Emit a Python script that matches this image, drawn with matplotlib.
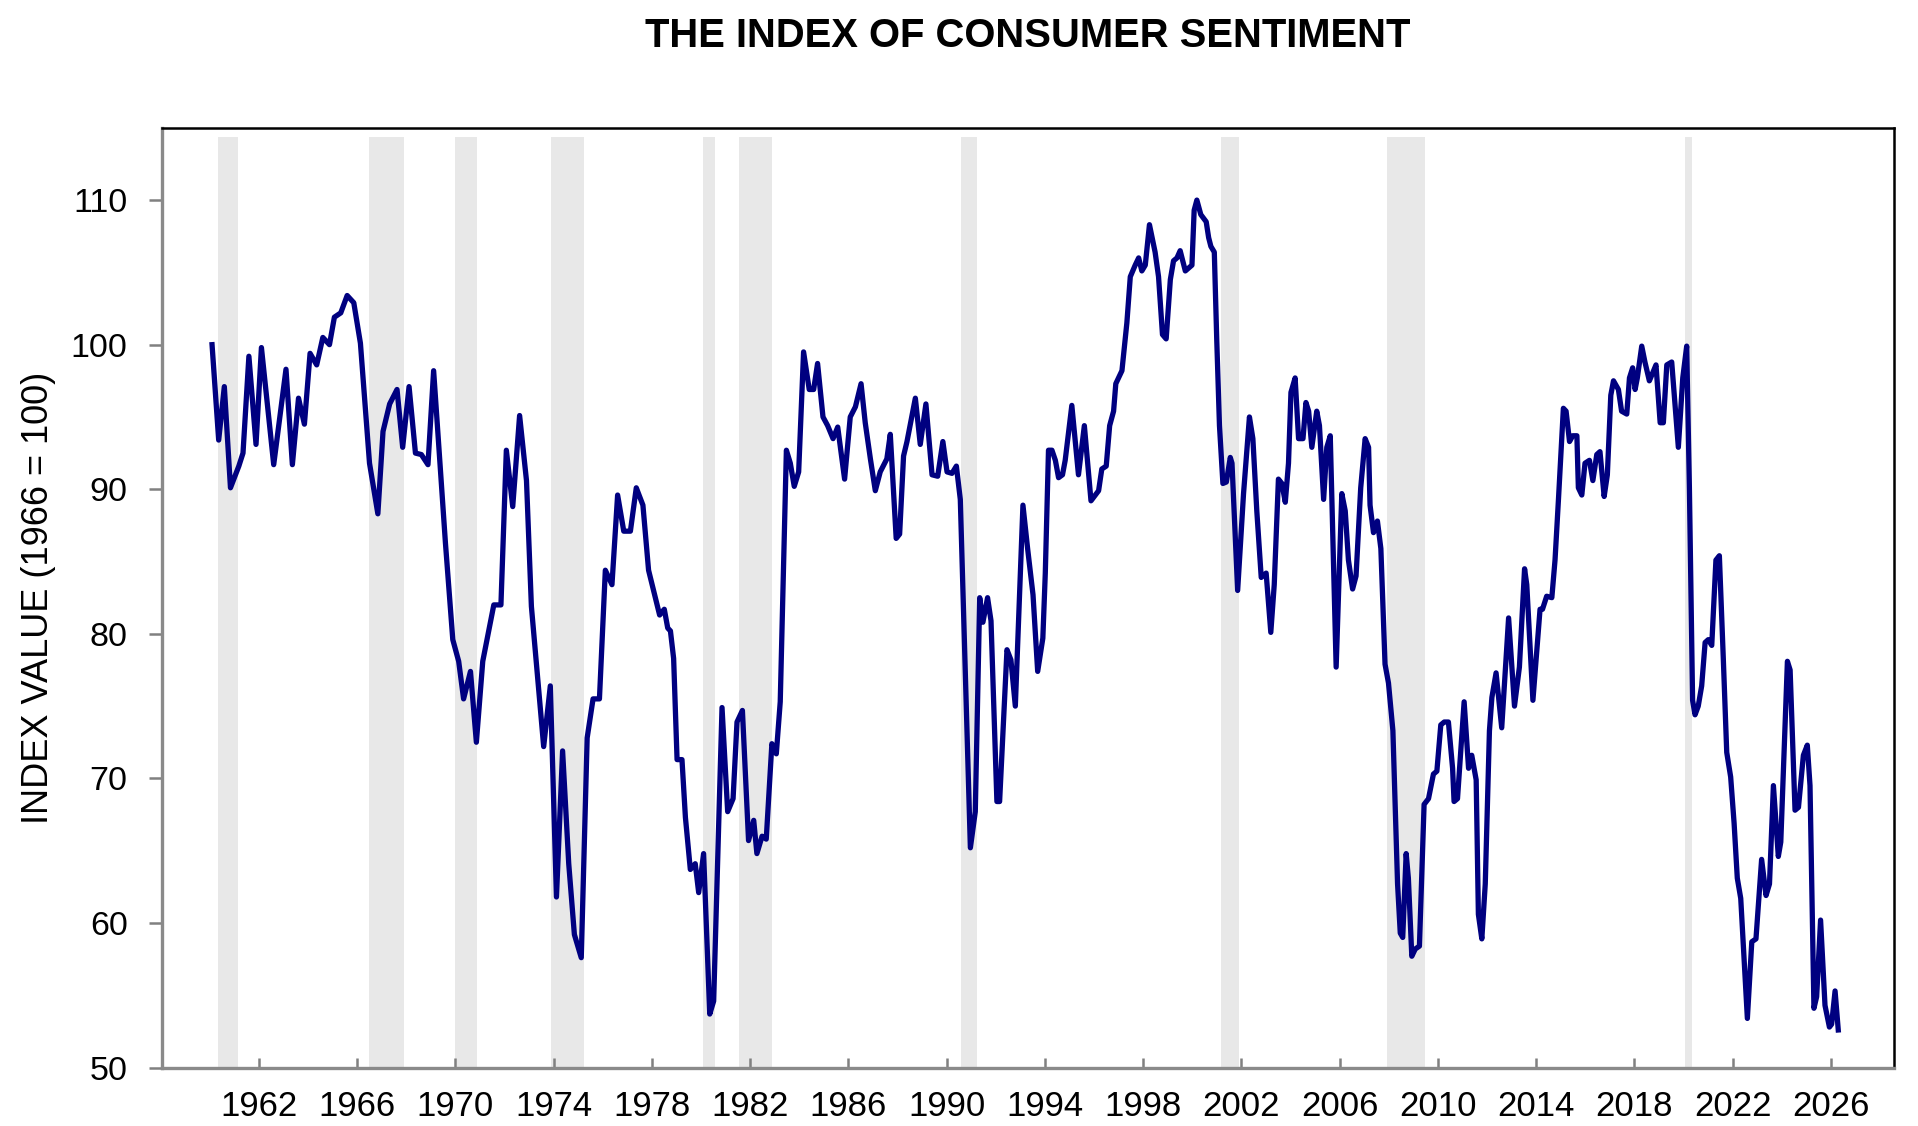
import matplotlib
matplotlib.use("Agg")
import matplotlib.pyplot as plt

plt.rcParams['font.family'] = ['Liberation Sans', 'DejaVu Sans']

# Index of Consumer Sentiment (1966 = 100)
years = [
    1960.10, 1960.37, 1960.60, 1960.85, 1961.19, 1961.36, 1961.60, 1961.89,
    1962.11, 1962.61, 1963.11, 1963.37, 1963.62, 1963.86, 1964.09, 1964.36,
    1964.61, 1964.88, 1965.08, 1965.34, 1965.60, 1965.87, 1966.14, 1966.51,
    1966.85, 1967.06, 1967.33, 1967.63, 1967.86, 1968.12, 1968.38, 1968.62,
    1968.89, 1969.12, 1969.60, 1969.90, 1970.14, 1970.34, 1970.62, 1970.86,
    1971.12, 1971.57, 1971.86, 1972.08, 1972.34, 1972.62, 1972.90, 1973.10,
    1973.60, 1973.87, 1974.12, 1974.37, 1974.62, 1974.85, 1975.13, 1975.37,
    1975.61, 1975.87, 1976.11, 1976.38, 1976.61, 1976.86, 1977.13, 1977.37,
    1977.64, 1977.87, 1978.32, 1978.51, 1978.65, 1978.76, 1978.89, 1979.03,
    1979.23, 1979.37, 1979.57, 1979.77, 1979.91, 1980.11, 1980.36, 1980.52,
    1980.86, 1981.09, 1981.31, 1981.47, 1981.69, 1981.94, 1982.15, 1982.28,
    1982.49, 1982.66, 1982.89, 1983.07, 1983.23, 1983.48, 1983.64, 1983.80,
    1983.98, 1984.18, 1984.41, 1984.59, 1984.75, 1984.97, 1985.16, 1985.38,
    1985.57, 1985.85, 1986.08, 1986.29, 1986.52, 1986.69, 1986.90, 1987.10,
    1987.30, 1987.57, 1987.71, 1987.95, 1988.09, 1988.25, 1988.39, 1988.73,
    1988.93, 1989.16, 1989.41, 1989.64, 1989.85, 1990.02, 1990.22, 1990.40,
    1990.56, 1990.97, 1991.17, 1991.35, 1991.48, 1991.67, 1991.81, 1992.05,
    1992.16, 1992.46, 1992.62, 1992.80, 1993.11, 1993.30, 1993.52, 1993.71,
    1993.92, 1994.02, 1994.15, 1994.29, 1994.43, 1994.56, 1994.72, 1994.83,
    1995.10, 1995.37, 1995.61, 1995.88, 1996.19, 1996.32, 1996.50, 1996.64,
    1996.80, 1996.89, 1997.14, 1997.34, 1997.48, 1997.68, 1997.82, 1997.95,
    1998.09, 1998.26, 1998.49, 1998.63, 1998.79, 1998.94, 1999.11, 1999.24,
    1999.38, 1999.51, 1999.72, 1999.99, 2000.08, 2000.19, 2000.35, 2000.57,
    2000.67, 2000.76, 2000.90, 2001.00, 2001.11, 2001.25, 2001.39, 2001.55,
    2001.62, 2001.85, 2002.09, 2002.33, 2002.47, 2002.63, 2002.81, 2003.01,
    2003.20, 2003.34, 2003.51, 2003.65, 2003.79, 2003.92, 2004.02, 2004.19,
    2004.33, 2004.51, 2004.63, 2004.74, 2004.87, 2005.07, 2005.18, 2005.35,
    2005.48, 2005.62, 2005.86, 2006.09, 2006.23, 2006.36, 2006.53, 2006.67,
    2006.86, 2007.04, 2007.18, 2007.24, 2007.38, 2007.54, 2007.68, 2007.85,
    2007.99, 2008.17, 2008.36, 2008.47, 2008.57, 2008.71, 2008.80, 2008.94,
    2009.08, 2009.25, 2009.44, 2009.62, 2009.82, 2009.96, 2010.12, 2010.26,
    2010.43, 2010.60, 2010.66, 2010.80, 2011.07, 2011.25, 2011.38, 2011.56,
    2011.65, 2011.79, 2011.93, 2012.10, 2012.20, 2012.37, 2012.60, 2012.88,
    2013.12, 2013.32, 2013.53, 2013.62, 2013.87, 2014.16, 2014.26, 2014.43,
    2014.64, 2014.77, 2014.91, 2015.11, 2015.22, 2015.36, 2015.49, 2015.66,
    2015.72, 2015.86, 2015.99, 2016.17, 2016.31, 2016.47, 2016.60, 2016.77,
    2016.90, 2017.04, 2017.15, 2017.35, 2017.48, 2017.69, 2017.80, 2017.93,
    2018.03, 2018.12, 2018.30, 2018.43, 2018.61, 2018.71, 2018.88, 2019.05,
    2019.18, 2019.32, 2019.52, 2019.79, 2019.97, 2020.13, 2020.24, 2020.37,
    2020.47, 2020.60, 2020.74, 2020.88, 2021.01, 2021.15, 2021.32, 2021.46,
    2021.62, 2021.76, 2021.92, 2022.06, 2022.19, 2022.33, 2022.60, 2022.78,
    2022.95, 2023.18, 2023.36, 2023.50, 2023.66, 2023.86, 2023.96, 2024.23,
    2024.34, 2024.54, 2024.68, 2024.88, 2025.04, 2025.15, 2025.31, 2025.42,
    2025.58, 2025.76, 2025.94, 2026.03, 2026.17, 2026.30,
]
sentiment = [
    100.0, 93.4, 97.1, 90.1, 91.6, 92.5, 99.2, 93.1,
    99.8, 91.7, 98.3, 91.7, 96.3, 94.5, 99.4, 98.6,
    100.5, 100.0, 101.9, 102.2, 103.4, 102.9, 100.1, 91.8,
    88.3, 94.0, 95.9, 96.9, 92.9, 97.1, 92.5, 92.4,
    91.7, 98.2, 86.3, 79.6, 78.1, 75.5, 77.4, 72.5,
    78.1, 82.0, 82.0, 92.7, 88.8, 95.1, 90.6, 81.9,
    72.2, 76.4, 61.8, 71.9, 64.1, 59.2, 57.6, 72.8,
    75.5, 75.5, 84.4, 83.4, 89.6, 87.1, 87.1, 90.1,
    88.9, 84.4, 81.3, 81.7, 80.4, 80.2, 78.3, 71.3,
    71.3, 67.3, 63.7, 64.1, 62.1, 64.8, 53.7, 54.6,
    74.9, 67.7, 68.6, 73.9, 74.7, 65.7, 67.1, 64.8,
    66.0, 65.8, 72.4, 71.7, 75.3, 92.7, 91.8, 90.2,
    91.2, 99.5, 96.9, 96.9, 98.7, 95.0, 94.4, 93.5,
    94.3, 90.7, 95.0, 95.7, 97.3, 94.6, 92.1, 89.9,
    91.2, 92.1, 93.8, 86.6, 86.9, 92.3, 93.3, 96.3,
    93.1, 95.9, 91.0, 90.9, 93.3, 91.2, 91.1, 91.6,
    89.3, 65.2, 67.7, 82.5, 80.8, 82.5, 80.9, 68.4,
    68.4, 78.9, 78.2, 75.0, 88.9, 85.9, 82.7, 77.4,
    79.7, 84.2, 92.7, 92.7, 92.0, 90.8, 91.0, 92.0,
    95.8, 91.0, 94.4, 89.2, 89.9, 91.4, 91.6, 94.4,
    95.4, 97.3, 98.2, 101.5, 104.7, 105.5, 106.0, 105.1,
    105.5, 108.3, 106.4, 104.7, 100.7, 100.4, 104.5, 105.8,
    106.0, 106.5, 105.1, 105.5, 109.3, 110.0, 109.0, 108.5,
    107.4, 106.8, 106.4, 100.3, 94.4, 90.4, 90.5, 92.2,
    91.8, 83.0, 89.7, 95.0, 93.5, 88.5, 83.9, 84.2,
    80.1, 83.4, 90.7, 90.4, 89.1, 91.8, 96.7, 97.7,
    93.5, 93.5, 96.0, 95.4, 92.9, 95.4, 94.4, 89.3,
    92.9, 93.7, 77.7, 89.7, 88.5, 85.1, 83.1, 84.0,
    90.1, 93.5, 92.9, 88.9, 87.0, 87.8, 85.9, 77.9,
    76.6, 73.3, 62.7, 59.3, 59.0, 64.8, 63.1, 57.7,
    58.2, 58.4, 68.2, 68.6, 70.3, 70.5, 73.7, 73.9,
    73.9, 70.7, 68.4, 68.6, 75.3, 70.7, 71.6, 69.9,
    60.6, 58.9, 62.7, 73.3, 75.6, 77.3, 73.5, 81.1,
    75.0, 77.7, 84.5, 83.4, 75.4, 81.7, 81.7, 82.6,
    82.5, 85.1, 89.3, 95.6, 95.4, 93.3, 93.7, 93.7,
    90.1, 89.6, 91.8, 92.0, 90.6, 92.4, 92.6, 89.5,
    91.0, 96.5, 97.5, 96.9, 95.4, 95.2, 97.7, 98.4,
    96.9, 97.7, 99.9, 98.8, 97.5, 97.9, 98.6, 94.6,
    94.6, 98.6, 98.8, 92.9, 97.7, 99.9, 90.1, 75.4,
    74.4, 75.0, 76.4, 79.4, 79.6, 79.2, 85.1, 85.4,
    78.3, 71.8, 70.1, 66.9, 63.1, 61.7, 53.4, 58.7,
    58.9, 64.4, 61.9, 62.7, 69.5, 64.6, 65.6, 78.1,
    77.5, 67.8, 68.0, 71.6, 72.3, 69.5, 54.1, 54.9,
    60.2, 54.3, 52.8, 53.0, 55.3, 52.6,
]

# Shaded recession periods (start, end)
recession_start = [1960.33, 1966.50, 1970.00, 1973.91, 1980.09, 1981.56, 1990.60, 2001.17, 2007.93, 2020.08]
recession_end = [1961.16, 1967.90, 1970.89, 1975.24, 1980.59, 1982.90, 1991.24, 2001.92, 2009.48, 2020.34]

year_ticks = list(range(1962, 2027, 4))
value_ticks = [50, 60, 70, 80, 90, 100, 110]

fig = plt.figure(figsize=(19.18, 11.26), dpi=100)
ax = fig.add_axes([0.0843, 0.0519, 0.9032, 0.8346])

for s, e in zip(recession_start, recession_end):
    ax.axvspan(s, e, ymin=0, ymax=0.99, color='#e8e8e8', lw=0, zorder=1)

ax.plot(years, sentiment, color='#000080', lw=3.8, solid_joinstyle='round', zorder=3)

ax.set_xlim(1958.05, 2028.57)
ax.set_ylim(50, 115)
ax.set_xticks(year_ticks)
ax.set_yticks(value_ticks)

ax.tick_params(axis='x', direction='in', length=7.5, width=1.8, color='#808080',
               pad=16, labelsize=25)
ax.tick_params(axis='y', direction='out', length=9.5, width=1.8, color='#808080',
               pad=15, labelsize=24.5)

for side in ['left', 'bottom']:
    ax.spines[side].set_color('#8a8a8a')
    ax.spines[side].set_linewidth(2.4)
for side in ['top', 'right']:
    ax.spines[side].set_color('black')
    ax.spines[side].set_linewidth(1.8)

ax.set_ylabel('INDEX VALUE (1966 = 100)', fontsize=26)
ax.yaxis.set_label_coords(-0.061, 0.5)

fig.text(0.536, 0.968, 'THE INDEX OF CONSUMER SENTIMENT', fontsize=28.8,
         fontweight='bold', ha='center', va='center')

fig.savefig('out.png', dpi=100)
